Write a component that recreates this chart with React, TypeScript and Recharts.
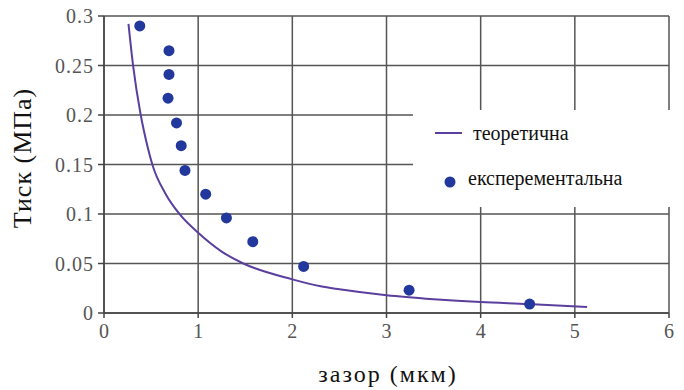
import React from 'react';
import { ComposedChart, Line, Scatter, XAxis, YAxis, CartesianGrid } from 'recharts';

const theoryX = [0.26, 0.31, 0.39, 0.45, 0.52, 0.65, 0.81, 1.0, 1.25, 1.48, 2.0, 2.3, 2.5, 3.0, 3.5, 4.0, 4.5, 5.13];
const theoryY = [0.292, 0.249, 0.2, 0.173, 0.148, 0.121, 0.099, 0.081, 0.062, 0.05, 0.034, 0.027, 0.024, 0.018, 0.014, 0.011, 0.009, 0.006];

const expX = [0.38, 0.69, 0.69, 0.68, 0.77, 0.82, 0.86, 1.08, 1.3, 1.58, 2.12, 3.24, 4.52];
const expY = [0.29, 0.265, 0.241, 0.217, 0.192, 0.169, 0.144, 0.12, 0.096, 0.072, 0.047, 0.023, 0.009];

const xTicks = [0, 1, 2, 3, 4, 5, 6];
const yTicks = [0, 0.05, 0.1, 0.15, 0.2, 0.25, 0.3];

const seriesNames = ['теоретична', 'експерементальна'];
const xLabel = 'зазор (мкм)';
const yLabel = 'Тиск (МПа)';

const theory = theoryX.map((x, i) => ({ x, y: theoryY[i] }));
const exp = expX.map((x, i) => ({ x, y: expY[i] }));

const LINE_COLOR = '#5b3f9e';
const DOT_COLOR = '#22389c';
const FONT = "'Liberation Serif', 'Times New Roman', serif";
const CSS =
  "html body #root div, html body #root svg text, html body #root svg tspan, html body #root .serif { font-family: 'Liberation Serif', 'Times New Roman', serif !important; }";

const Dot = (props: any) => <circle cx={props.cx} cy={props.cy} r={5.5} fill={DOT_COLOR} />;

export default function App() {
  return (
    <div className="serif" style={{ position: 'absolute', left: 0, top: 0, width: 684, height: 390, background: '#fff', fontFamily: FONT }}>
      <style>{CSS}</style>
      <ComposedChart width={684} height={390} margin={{ top: 16, right: 15, bottom: 0, left: 0 }}>
        <CartesianGrid stroke="#555" strokeWidth={1.5} />
        <XAxis
          type="number"
          dataKey="x"
          domain={[0, 6]}
          ticks={xTicks}
          allowDataOverflow
          height={77}
          stroke="#444"
          strokeWidth={1.5}
          tickSize={5}
          tickMargin={6}
          tick={{ fill: '#555', fontSize: 20, fontFamily: FONT }}
        />
        <YAxis
          type="number"
          dataKey="y"
          domain={[0, 0.3]}
          ticks={yTicks}
          allowDataOverflow
          width={104}
          stroke="#444"
          strokeWidth={1.5}
          tickSize={6}
          tickMargin={4}
          tick={{ fill: '#555', fontSize: 20, letterSpacing: 1, fontFamily: FONT }}
        />
        <Line
          data={theory}
          dataKey="y"
          type="monotone"
          stroke={LINE_COLOR}
          strokeWidth={2}
          dot={false}
          isAnimationActive={false}
        />
        <Scatter data={exp} dataKey="y" fill={DOT_COLOR} shape={Dot} isAnimationActive={false} />
      </ComposedChart>
      <div
        className="serif"
        style={{
          position: 'absolute', left: 238, top: 360, width: 300, lineHeight: '28px', textAlign: 'center',
          fontFamily: FONT, fontSize: 24, letterSpacing: 2, color: '#111', whiteSpace: 'nowrap',
        }}
      >
        {xLabel}
      </div>
      <div
        className="serif"
        style={{
          position: 'absolute', left: 23, top: 158, transform: 'translate(-50%, -50%) rotate(-90deg)',
          fontFamily: FONT, fontSize: 26, letterSpacing: 1, color: '#111', whiteSpace: 'nowrap', lineHeight: '30px',
        }}
      >
        {yLabel}
      </div>
      <div style={{ position: 'absolute', left: 413, top: 110, width: 270, height: 97, background: '#fff' }}>
        <svg width={270} height={97} style={{ position: 'absolute', left: 0, top: 0 }}>
          <line x1={22} y1={23} x2={49} y2={23} stroke={LINE_COLOR} strokeWidth={2} />
          <circle cx={37} cy={72} r={5.5} fill={DOT_COLOR} />
        </svg>
        <div className="serif" style={{ position: 'absolute', left: 60, top: 10, lineHeight: '26px', fontFamily: FONT, fontSize: 20, color: '#111', whiteSpace: 'nowrap' }}>
          {seriesNames[0]}
        </div>
        <div className="serif" style={{ position: 'absolute', left: 55, top: 55, lineHeight: '26px', fontFamily: FONT, fontSize: 20, color: '#111', whiteSpace: 'nowrap' }}>
          {seriesNames[1]}
        </div>
      </div>
    </div>
  );
}
